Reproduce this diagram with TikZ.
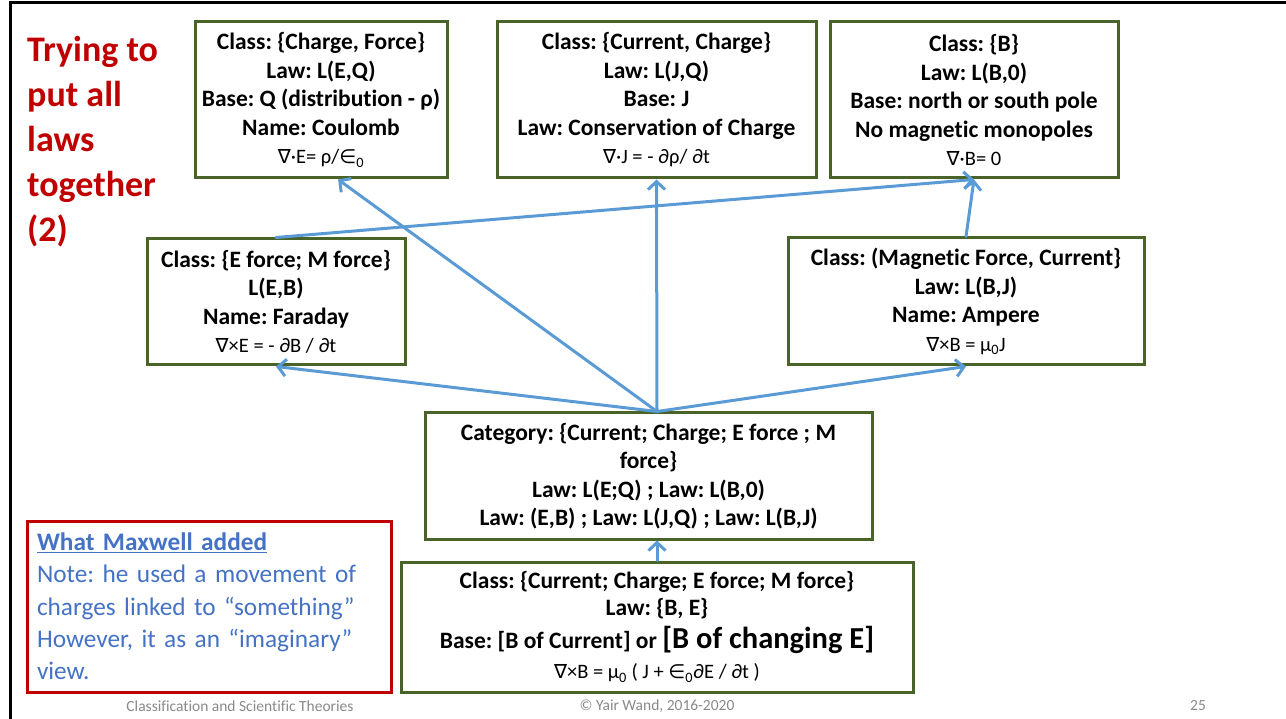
\documentclass[tikz,border=0pt]{standalone}
\usepackage{fontspec}
\setmainfont{Carlito}[Ligatures={NoCommon,NoContextual,NoRare}]
\newfontfamily\symfont{DejaVu Sans}[Scale=0.95]
\usetikzlibrary{arrows.meta,calc}

\definecolor{boxgreen}{HTML}{4A6329}
\definecolor{arrowblue}{HTML}{5B9BD5}
\definecolor{titlered}{HTML}{C00000}
\definecolor{noteblue}{HTML}{4472C4}
\definecolor{footgray}{HTML}{898989}

% symbols not present in Carlito
\newcommand\nablasym{{\symfont ∇}}
\newcommand\elemsym{{\symfont ∈}}
\newcommand\zsub{\textsubscript{0}}

\newcommand\boxfont{\frenchspacing\bfseries\fontsize{23.5}{28.5}\selectfont}
\newcommand\eqfont{\mdseries\fontsize{20.5}{28.5}\selectfont}

\tikzset{
  lawbox/.style={draw=boxgreen, line width=3pt, fill=white, align=center,
    inner sep=0pt, font=\boxfont, text=black},
  conn/.style={draw=arrowblue, line width=3pt, line cap=round,
    -{Straight Barb[length=8pt, width=17pt, line width=3pt]}},
  foot/.style={font=\fontsize{15.5}{18}\selectfont, text=footgray, inner sep=0pt}
}

\begin{document}
\frenchspacing
\begin{tikzpicture}[x=1pt, y=-1pt]
\useasboundingbox (0,0) rectangle (1286,719);

% slide frame
\draw[line width=3pt] (10,719) -- (10,3) -- (1290,3);

% title
\node[anchor=north west, align=left, inner sep=0pt, text=titlered,
  font=\bfseries\fontsize{36}{45}\selectfont] (title) at (27,36)
  {Trying to\\put all\\laws\\together\\(2)};

% top row
\node[lawbox, minimum width=252pt, minimum height=156pt] (coul) at (321,100)
  {Class: \{Charge, Force\}\\Law: L(E,Q)\\Base: Q (distribution - ρ)\\Name: Coulomb\\
   {\eqfont \nablasym·E= ρ/\elemsym\zsub}};
\node[lawbox, minimum width=319pt, minimum height=156pt] (cons) at (656.5,100)
  {Class: \{Current, Charge\}\\Law: L(J,Q)\\Base: J\\Law: Conservation of Charge\\
   {\eqfont \nablasym·J = - ∂ρ/ ∂t}};
\node[lawbox, minimum width=288pt, minimum height=156pt] (bfield) at (974,100)
  {Class: \{B\}\\Law: L(B,0)\\Base: north or south pole\\No magnetic monopoles\\
   {\eqfont \nablasym·B= 0}};

% middle row
\node[lawbox, minimum width=258pt, minimum height=126pt] (far) at (276,302)
  {Class: \{E force; M force\}\\L(E,B)\\Name: Faraday\\
   {\eqfont \nablasym×E = - ∂B / ∂t}};
\node[lawbox, minimum width=356pt, minimum height=127pt] (amp) at (966,301.5)
  {Class: (Magnetic Force, Current\}\\Law: L(B,J)\\Name: Ampere\\
   {\eqfont \nablasym×B = μ\zsub J}};

% category
\node[lawbox, minimum width=447pt, minimum height=126pt] (cat) at (648.5,476)
  {Category: \{Current; Charge; E force ; M\\force\}\\Law: L(E;Q) ; Law: L(B,0)\\
   Law: (E,B) ; Law: L(J,Q) ; Law: L(B,J)};

% Maxwell's addition
\node[lawbox, minimum width=512pt, minimum height=130pt] (mx) at (657,627)
  {Class: \{Current; Charge; E force; M force\}\\[-1.5pt]Law: \{B, E\}\\[4pt]
   Base: [B of Current] or {\fontsize{30.5}{34}\selectfont [B of changing E]}\\[2pt]
   {\eqfont \nablasym×B = μ\zsub\ ( J + \elemsym\zsub∂E / ∂t )}};

% note
\node[draw=titlered, line width=3pt, minimum width=364pt, minimum height=171pt,
  text width=344pt, align=left, inner sep=0pt, text=noteblue,
  font=\fontsize{25.3}{32.3}\selectfont] (note) at (209,606.5)
  {\textbf{\underline{What Maxwell added}}\\Note: he used a movement of\\
   charges linked to “something”\\However, it as an “imaginary”\\view.};

% connectors
\coordinate (hub) at (cat.north -| mx.north);
\draw[conn] (hub) -- ($(coul.south west)!0.567!(coul.south east)$);
\draw[conn] (hub) -- (cons.south);
\draw[conn] (hub) -- (far.south);
\draw[conn] (hub) -- (amp.south);
\draw[conn] (far.north) -- (bfield.south);
\draw[conn] (amp.north) -- (bfield.south);
\draw[conn] (mx.north) -- (mx.north |- cat.south);

% footer
\node[foot] (ftitle) at (240,706) {Classification and Scientific Theories};
\node[foot] (fcopy) at (657,706) {© Yair Wand, 2016-2020};
\node[foot] (fpage) at (1198,706) {25};
\end{tikzpicture}
\end{document}
